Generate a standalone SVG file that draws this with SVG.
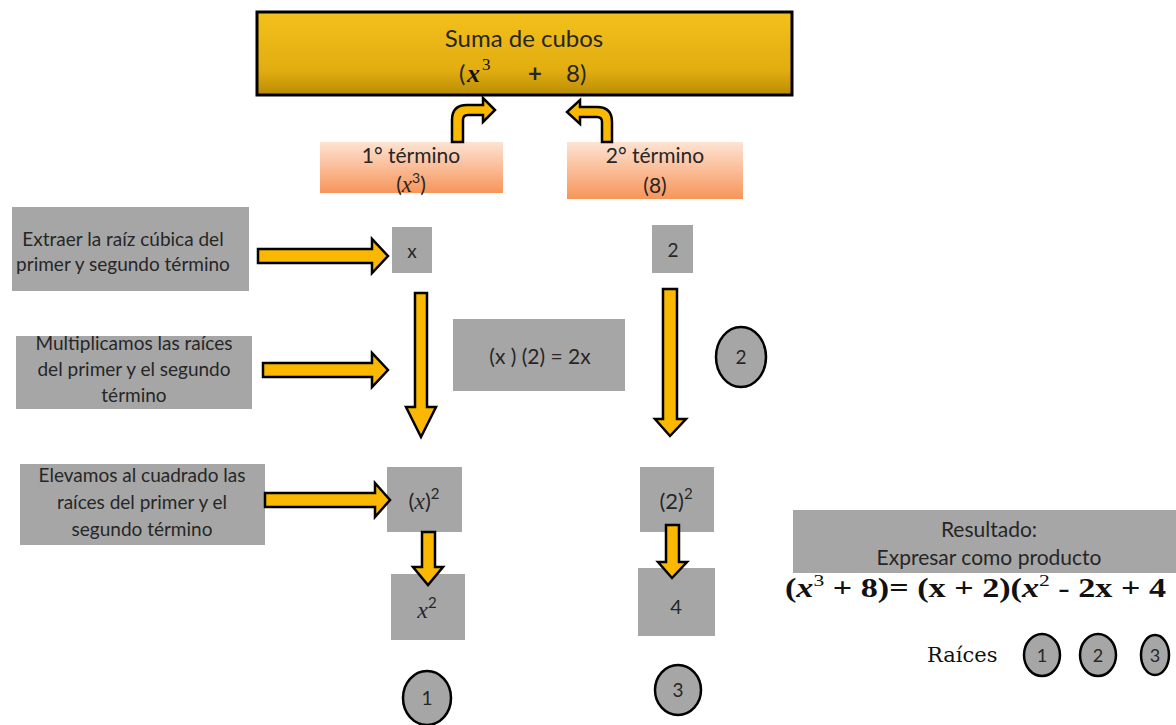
<svg xmlns="http://www.w3.org/2000/svg" width="1176" height="725" viewBox="0 0 1176 725">
<defs>
<linearGradient id="gold" x1="0" y1="0" x2="0" y2="1">
<stop offset="0" stop-color="#f3c11c"/>
<stop offset="0.7" stop-color="#e2ad10"/>
<stop offset="1" stop-color="#b98c05"/>
</linearGradient>
<linearGradient id="peach" x1="0" y1="0" x2="0" y2="1">
<stop offset="0" stop-color="#fde3d3"/>
<stop offset="1" stop-color="#f7955a"/>
</linearGradient>
<style>
.box{fill:#a6a6a6}
.t{font-family:Lato,"Liberation Sans",sans-serif;fill:#262626;text-anchor:middle}
.m{font-family:"Liberation Serif",serif;font-style:italic}
.arr{fill:#fbb800;stroke:#000;stroke-width:2.5;stroke-linejoin:miter}
.circ{fill:#a6a6a6;stroke:#000;stroke-width:2.5}
.ser{font-family:"DejaVu Serif","Liberation Serif",serif;fill:#111}
.frm{font-family:"Liberation Serif",serif;fill:#111}
</style>
</defs>
<rect width="1176" height="725" fill="#fff"/>

<g id="top">
<rect x="257" y="12" width="535" height="83" fill="url(#gold)" stroke="#000" stroke-width="3"/>
<text class="t" x="524" y="47" font-size="24">Suma de cubos</text>
<text x="459" y="82" font-size="24" font-family="Lato,sans-serif" fill="#262626">(</text>
<text x="467" y="82" font-size="26" font-family="Liberation Serif,serif" font-style="italic" font-weight="bold" fill="#111">x</text>
<text x="482" y="70" font-size="17" font-family="Liberation Serif,serif" fill="#111">3</text>
<text x="528" y="82" font-size="24" font-weight="bold" font-family="Lato,sans-serif" fill="#262626">+</text>
<text x="566" y="82" font-size="24" font-family="Lato,sans-serif" fill="#262626">8)</text>
</g>

<g id="term1">
<rect x="320" y="142" width="183" height="51" fill="url(#peach)"/>
<text class="t" x="411" y="163" font-size="21">1° término</text>
<text class="t" x="411" y="192" font-size="21">(<tspan class="m" font-size="23">x</tspan><tspan font-size="14" dy="-9">3</tspan><tspan dy="9">)</tspan></text>
</g>

<g id="term2">
<rect x="567" y="142" width="176" height="57" fill="url(#peach)"/>
<text class="t" x="655" y="163" font-size="21">2° término</text>
<text class="t" x="655" y="193" font-size="21">(8)</text>
</g>

<g id="stepA">
<rect class="box" x="12" y="207" width="237" height="84"/>
<text class="t" x="123" y="246" font-size="19">Extraer  la raíz cúbica del</text>
<text class="t" x="123" y="271" font-size="19">primer y segundo  término</text>
</g>

<g id="stepB">
<rect class="box" x="16" y="336" width="236" height="73"/>
<text class="t" x="134" y="350" font-size="19">Multiplicamos las raíces</text>
<text class="t" x="134" y="376" font-size="19">del primer  y el segundo</text>
<text class="t" x="134" y="402" font-size="19">término</text>
</g>

<g id="stepC">
<rect class="box" x="20" y="464" width="245" height="81"/>
<text class="t" x="142" y="482" font-size="19">Elevamos  al cuadrado las</text>
<text class="t" x="142" y="509" font-size="19">raíces del primer  y el</text>
<text class="t" x="142" y="536" font-size="19">segundo  término</text>
</g>

<g id="nx">
<rect class="box" x="392" y="227" width="40" height="46"/>
<text class="t" x="412" y="258" font-size="19">x</text>
</g>
<g id="n2">
<rect class="box" x="652" y="225" width="41" height="48"/>
<text class="t" x="673" y="257" font-size="19">2</text>
</g>
<g id="nprod">
<rect class="box" x="453" y="319" width="172" height="72"/>
<text class="t" x="540" y="364" font-size="21">(x ) (2) = 2x</text>
</g>
<g id="nx2p">
<rect class="box" x="387" y="467" width="75" height="65"/>
<text class="t" x="424" y="509" font-size="22">(<tspan class="m" font-size="24">x</tspan>)<tspan font-size="15" dy="-10">2</tspan></text>
</g>
<g id="nx2">
<rect class="box" x="391" y="574" width="74" height="66"/>
<text class="t" x="427" y="618" font-size="22"><tspan class="m" font-size="24">x</tspan><tspan font-size="15" dy="-10">2</tspan></text>
</g>
<g id="n22">
<rect class="box" x="640" y="467" width="74" height="65"/>
<text class="t" x="676" y="509" font-size="22">(2)<tspan font-size="15" dy="-10">2</tspan></text>
</g>
<g id="n4">
<rect class="box" x="638" y="568" width="77" height="68"/>
<text class="t" x="676" y="614" font-size="20">4</text>
</g>

<g id="c1">
<ellipse class="circ" cx="427" cy="698" rx="24" ry="27"/>
<text class="t" x="427" y="705" font-size="19">1</text>
</g>
<g id="c2">
<ellipse class="circ" cx="741" cy="357" rx="25" ry="30"/>
<text class="t" x="741" y="364" font-size="19">2</text>
</g>
<g id="c3">
<ellipse class="circ" cx="678" cy="690" rx="23" ry="25"/>
<text class="t" x="678" y="697" font-size="19">3</text>
</g>

<g id="result">
<rect class="box" x="793" y="510" width="383" height="63"/>
<text class="t" x="989" y="537" font-size="21">Resultado:</text>
<text class="t" x="989" y="565" font-size="21">Expresar como producto</text>
<text class="frm" x="785" y="597" font-size="27" font-weight="bold" textLength="381" lengthAdjust="spacingAndGlyphs">(<tspan font-style="italic">x</tspan><tspan font-size="17" dy="-11" font-weight="normal">3</tspan><tspan dy="11"> + 8)= (x + 2)(</tspan><tspan font-style="italic">x</tspan><tspan font-size="17" dy="-11" font-weight="normal">2</tspan><tspan dy="11"> - 2x + 4</tspan></text>
</g>

<g id="roots">
<text class="ser" x="927" y="662" font-size="21">Raíces</text>
<ellipse class="circ" cx="1042" cy="655" rx="18" ry="21"/>
<text class="t" x="1042" y="662" font-size="18">1</text>
<ellipse class="circ" cx="1098" cy="655" rx="18" ry="21"/>
<text class="t" x="1098" y="662" font-size="18">2</text>
<ellipse class="circ" cx="1155" cy="655" rx="14" ry="20"/>
<text class="t" x="1155" y="662" font-size="18">3</text>
</g>

<g id="connectors">
<path class="arr" d="M452,142 V120 Q452,105 467,105 H483 V98 L495,110 L483,122 V115 H468 Q463,115 463,120 V142 Z"/>
<path class="arr" d="M612,142 V122 Q612,107 597,107 H580 V100 L567,112 L580,124 V117 H597 Q602,117 602,122 V142 Z"/>
<polygon class="arr" points="258,249 372,249 372,239 388,256 372,273 372,263 258,263"/>
<polygon class="arr" points="263,363 372,363 372,353 388,370 372,387 372,377 263,377"/>
<polygon class="arr" points="265,493 375,493 375,483 390,500 375,517 375,507 265,507"/>
<polygon class="arr" points="415,293 427,293 427,407 436,407 421,437 406,407 415,407"/>
<polygon class="arr" points="663,289 677,289 677,419 686,419 670,436 655,419 663,419"/>
<polygon class="arr" points="422,532 435,532 435,567 443,567 428,585 413,567 422,567"/>
<polygon class="arr" points="666,525 679,525 679,562 687,562 672,578 658,562 666,562"/>
</g>
</svg>
